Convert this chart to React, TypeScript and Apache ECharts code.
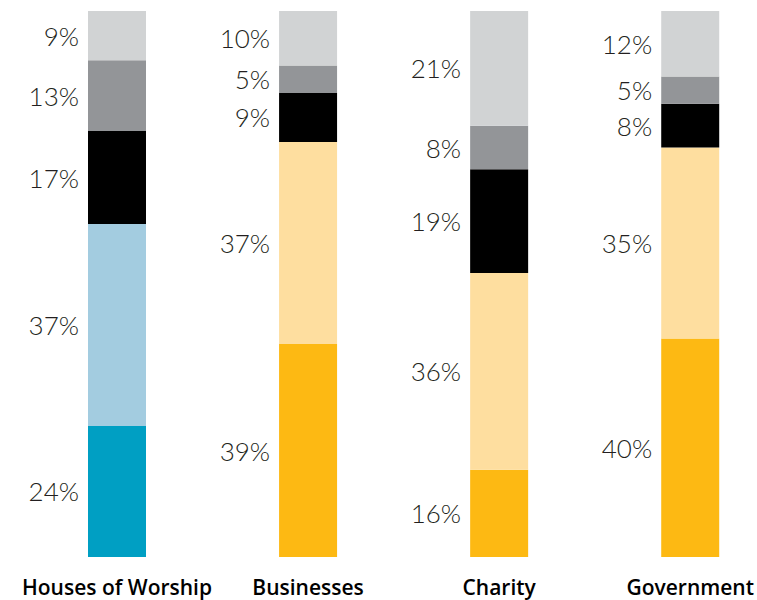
import React, { useEffect, useRef } from "react";
import * as echarts from "echarts";

const categories = ["Houses of Worship", "Businesses", "Charity", "Government"];
const seg1 = [24, 39, 16, 40];
const seg2 = [37, 37, 36, 35];
const seg3 = [17, 9, 19, 8];
const seg4 = [13, 5, 8, 5];
const seg5 = [9, 10, 21, 12];

const seg1Colors = ["#009FC3", "#FDB913", "#FDB913", "#FDB913"];
const seg2Colors = ["#A3CCE0", "#FEDE9F", "#FEDE9F", "#FEDE9F"];

export default function App() {
  const ref = useRef<HTMLDivElement>(null);
  useEffect(() => {
    if (!ref.current) return;
    const chart = echarts.init(ref.current, null, { renderer: "svg" });
    const label = {
      show: true,
      position: "left" as const,
      distance: 9,
      formatter: (p: any) => `${p.value}%`,
      fontFamily: "Lato",
      fontWeight: 300,
      fontSize: 26,
      color: "#231F20",
    };
    const mk = (data: number[], colors: string[] | string) => ({
      type: "bar",
      stack: "total",
      barWidth: 58,
      label,
      data: data.map((v, i) => ({
        value: v,
        itemStyle: { color: Array.isArray(colors) ? colors[i] : colors },
      })),
    });
    chart.setOption({
      animation: false,
      grid: { left: 117, right: 59, top: 11, bottom: 43 },
      xAxis: {
        type: "category",
        data: categories,
        boundaryGap: false,
        axisLine: { show: false },
        axisTick: { show: false },
        axisLabel: {
          interval: 0,
          margin: 19,
          fontFamily: "Open Sans",
          fontWeight: 600,
          fontSize: 21,
          color: "#000",
        },
      },
      yAxis: { type: "value", min: 0, max: 100, show: false },
      series: [
        mk(seg1, seg1Colors),
        mk(seg2, seg2Colors),
        mk(seg3, "#000000"),
        mk(seg4, "#939598"),
        mk(seg5, "#D1D3D4"),
      ],
    });
    return () => chart.dispose();
  }, []);
  return (
    <div
      ref={ref}
      style={{ position: "absolute", left: 0, top: 0, width: 757, height: 600 }}
    />
  );
}
